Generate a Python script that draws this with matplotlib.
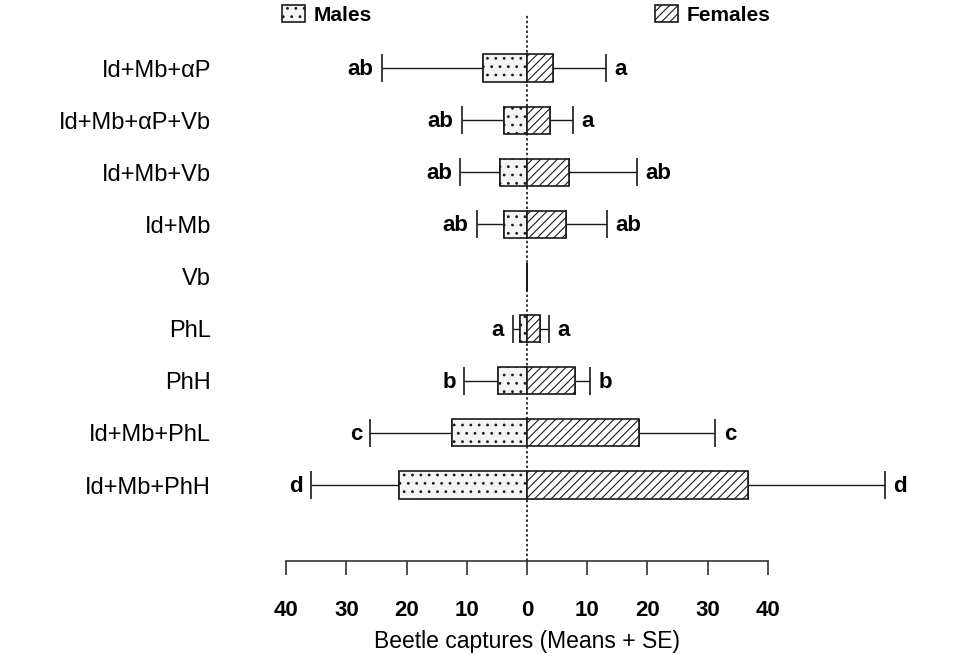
import numpy as np
import matplotlib
matplotlib.use('Agg')
import matplotlib.pyplot as plt
from matplotlib.patches import Patch

plt.rcParams['font.family'] = ['Liberation Sans', 'DejaVu Sans']
plt.rcParams['hatch.linewidth'] = 0.8

# treatments, top to bottom
treatments = ['Id+Mb+αP', 'Id+Mb+αP+Vb', 'Id+Mb+Vb', 'Id+Mb', 'Vb',
              'PhL', 'PhH', 'Id+Mb+PhL', 'Id+Mb+PhH']

male_mean = [7.3, 3.8, 4.5, 3.8, 0.0, 1.1, 4.9, 12.5, 21.2]
male_se = [16.8, 7.0, 6.6, 4.5, 0.0, 1.3, 5.5, 13.5, 14.7]
female_mean = [4.3, 3.8, 6.9, 6.4, 0.0, 2.1, 8.0, 18.6, 36.7]
female_se = [8.8, 3.8, 11.4, 6.9, 0.0, 1.6, 2.5, 12.7, 22.7]

male_letters = ['ab', 'ab', 'ab', 'ab', '', 'a', 'b', 'c', 'd']
female_letters = ['a', 'a', 'ab', 'ab', '', 'a', 'b', 'c', 'd']

tick_vals = [-40, -30, -20, -10, 0, 10, 20, 30, 40]

male_mean = np.array(male_mean)
male_se = np.array(male_se)
female_mean = np.array(female_mean)
female_se = np.array(female_se)
pos = np.arange(len(treatments))
zeros = np.zeros(len(treatments))

fig = plt.figure(figsize=(9.6, 6.54), dpi=100)
ax = fig.add_axes([280.2 / 960, 1 - 561 / 654, 614 / 960, 546 / 654])

edge = '#1a1a1a'

# error bars (drawn under the bars)
ax.errorbar(-male_mean, pos, xerr=[male_se, zeros], fmt='none', ecolor=edge,
            elinewidth=1, capsize=10, capthick=1.2, zorder=1)
ax.errorbar(female_mean, pos, xerr=[zeros, female_se], fmt='none', ecolor=edge,
            elinewidth=1, capsize=10, capthick=1.2, zorder=1)

ax.barh(pos, -male_mean, height=0.52, color='#f4f4f4', edgecolor=edge,
        hatch='..', linewidth=1.2, zorder=2)
ax.barh(pos, female_mean, height=0.52, color='white', edgecolor=edge,
        hatch='////', linewidth=1.2, zorder=2)

for i in range(len(treatments)):
    if male_letters[i]:
        ax.annotate(male_letters[i], (-(male_mean[i] + male_se[i]), pos[i]),
                    xytext=(-6, -1), textcoords='offset points', ha='right',
                    va='center', fontsize=16, fontweight='bold')
    if female_letters[i]:
        ax.annotate(female_letters[i], (female_mean[i] + female_se[i], pos[i]),
                    xytext=(6, -1), textcoords='offset points', ha='left',
                    va='center', fontsize=16, fontweight='bold')

ax.axvline(0, color='black', lw=1.1, ls=(0, (1.6, 1.6)), zorder=0)

ax.set_xlim(-41, 61)
ax.set_ylim(8 + 1.458, -1.017)

ax.set_xticks(tick_vals)
ax.set_xticklabels([str(abs(v)) for v in tick_vals], fontsize=16, fontweight='bold')
ax.tick_params(axis='x', direction='out', length=10, width=1.2, pad=18, color='#333333')
ax.set_yticks(pos)
ax.set_yticklabels(treatments, fontsize=17)
ax.tick_params(axis='y', length=0, pad=50)

for s in ['top', 'right', 'left']:
    ax.spines[s].set_visible(False)
ax.spines['bottom'].set_bounds(-40, 40)
ax.spines['bottom'].set_linewidth(1.2)
ax.spines['bottom'].set_color('#333333')

ax.set_xlabel('Beetle captures (Means + SE)', fontsize=16.5, va='center')
ax.xaxis.set_label_coords(41 / 102, -0.148)

# legends at the top
h_m = Patch(facecolor='#f4f4f4', edgecolor=edge, hatch='..', linewidth=1.2)
h_f = Patch(facecolor='white', edgecolor=edge, hatch='////', linewidth=1.2)
lg1 = fig.legend([h_m], ['Males'], loc='center left', bbox_to_anchor=(282 / 960, 1 - 15 / 654),
                 frameon=False, borderpad=0, borderaxespad=0, handlelength=1.1,
                 handleheight=0.9, handletextpad=0.4, prop={'size': 15, 'weight': 'bold'})
lg2 = fig.legend([h_f], ['Females'], loc='center left', bbox_to_anchor=(655 / 960, 1 - 15 / 654),
                 frameon=False, borderpad=0, borderaxespad=0, handlelength=1.1,
                 handleheight=0.9, handletextpad=0.4, prop={'size': 15, 'weight': 'bold'})

fig.savefig('out.png', dpi=100, facecolor='white')
